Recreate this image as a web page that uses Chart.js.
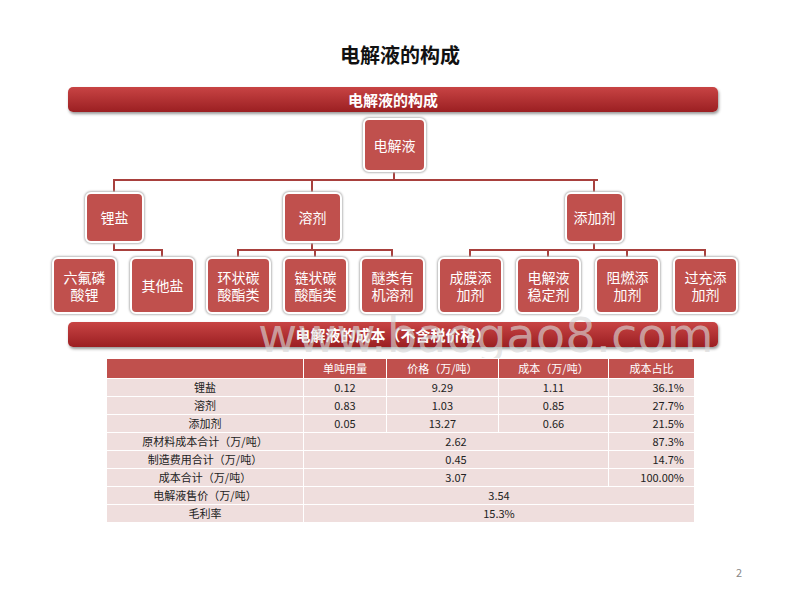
<!DOCTYPE html>
<html><head><meta charset="utf-8">
<script src="https://cdn.jsdelivr.net/npm/chart.js@4"></script>
<style>
body{margin:0;width:800px;height:600px;background:#fff;position:relative;font-family:"Noto Sans CJK SC",sans-serif;overflow:hidden}
.abs{position:absolute}
.title{left:0;width:800px;top:40px;text-align:center;font-weight:bold;font-size:20px;color:#111}
.banner{left:68px;width:650px;height:25px;border-radius:5px;background:linear-gradient(#c84444,#9b1f22);color:#fff;font-weight:bold;font-size:15px;text-align:center;line-height:25px;box-shadow:1px 2px 3px #999}
.box{background:#c0504d;border:2px solid #fff;border-radius:6px;box-shadow:0 0 2px 1px #bbb;color:#fff;font-size:14px;display:flex;align-items:center;justify-content:center;text-align:center;line-height:17px;box-sizing:border-box}
.ln{background:#a8403d}
table{border-collapse:collapse;font-size:11px;color:#222;line-height:13px}
td{height:17px;padding:0;text-align:center;border:1px solid #fff;background:#efdedd}
th{height:17px;background:#c0504d;color:#fff;font-weight:normal;border:1px solid #fff}
.wm{left:258px;top:310px;font-size:48px;line-height:50px;color:rgba(215,215,215,0.65);font-family:"DejaVu Sans";white-space:nowrap}
</style></head><body>
<div class="abs title">电解液的构成</div>
<div class="abs banner" style="top:87px">电解液的构成</div>
<div id="tree"></div>
<div class="abs banner" style="top:322px">电解液的成本（不含税价格）</div>
<div class="abs wm">www.baogao8.com</div>
<table class="abs" id="tbl" style="left:106px;top:358px;width:589px"></table>
<div class="abs" style="left:736px;top:564px;font-size:11px;color:#888">2</div>
<canvas id="c" class="abs" style="left:0;top:0;pointer-events:none" width="10" height="10"></canvas>
<script>
const rootNode=["电解液"];
const level2=["锂盐","溶剂","添加剂"];
const level3=[["六氟磷<br>酸锂","其他盐"],["环状碳<br>酸酯类","链状碳<br>酸酯类","醚类有<br>机溶剂"],["成膜添<br>加剂","电解液<br>稳定剂","阻燃添<br>加剂","过充添<br>加剂"]];
const headers=["","单吨用量","价格（万/吨）","成本（万/吨）","成本占比"];
const rowLabels=["锂盐","溶剂","添加剂","原材料成本合计（万/吨）","制造费用合计（万/吨）","成本合计（万/吨）","电解液售价（万/吨）","毛利率"];
const usage=["0.12","0.83","0.05"];
const price=["9.29","1.03","13.27"];
const cost=["1.11","0.85","0.66"];
const share=["36.1%","27.7%","21.5%","87.3%","14.7%","100.00%"];
const totals=["2.62","0.45","3.07"];
const tail=["3.54","15.3%"];

const T=document.getElementById('tree');
function box(x,y,w,h,t){const d=document.createElement('div');d.className='abs box';Object.assign(d.style,{left:x+'px',top:y+'px',width:w+'px',height:h+'px'});d.innerHTML=t;T.appendChild(d);}
function ln(x,y,w,h){const d=document.createElement('div');d.className='abs ln';Object.assign(d.style,{left:x+'px',top:y+'px',width:w+'px',height:h+'px'});T.appendChild(d);}
const l2x=[85,283,565],l3x=[[52,130],[206,283,360],[438,516,595,673]];
ln(393,170,2,11);ln(114,179,484,2);
level2.forEach((t,i)=>{const cx=l2x[i]+29;ln(cx-1,179,2,14);
 const xs=l3x[i];const c3=xs.map(x=>x+32);
 ln(cx-1,241,2,10);const mn=Math.min(cx,...c3.slice(i==0?1:0)),mx=Math.max(cx,...c3);
 ln(mn,249,mx-mn+1,2);
 c3.forEach((c,j)=>{if(!(i==0&&j==0))ln(c-1,249,2,10);});
});
box(363,118,63,54,rootNode[0]);
level2.forEach((t,i)=>box(l2x[i],192,59,51,t));
level3.forEach((g,i)=>g.forEach((t,j)=>box(l3x[i][j],257,65,57,t)));

const tb=document.getElementById('tbl');
let h='<tr>'+headers.map((x,i)=>'<th style="width:'+[200,82,112,110,84][i]+'px">'+x+'</th>').join('')+'</tr>';
for(let i=0;i<3;i++)h+=`<tr><td>${rowLabels[i]}</td><td>${usage[i]}</td><td>${price[i]}</td><td>${cost[i]}</td><td style="text-align:right;padding-right:10px">${share[i]}</td></tr>`;
for(let i=0;i<3;i++)h+=`<tr><td>${rowLabels[3+i]}</td><td colspan="3">${totals[i]}</td><td style="text-align:right;padding-right:10px">${share[3+i]}</td></tr>`;
for(let i=0;i<2;i++)h+=`<tr><td>${rowLabels[6+i]}</td><td colspan="4">${tail[i]}</td></tr>`;
tb.innerHTML=h;
new Chart(document.getElementById('c'),{type:'bar',data:{labels:level2,datasets:[{data:cost.map(Number),backgroundColor:'rgba(0,0,0,0)'}]},options:{responsive:false,animation:false,plugins:{legend:{display:false},tooltip:{enabled:false}},scales:{x:{display:false},y:{display:false}}}});
</script></body></html>
